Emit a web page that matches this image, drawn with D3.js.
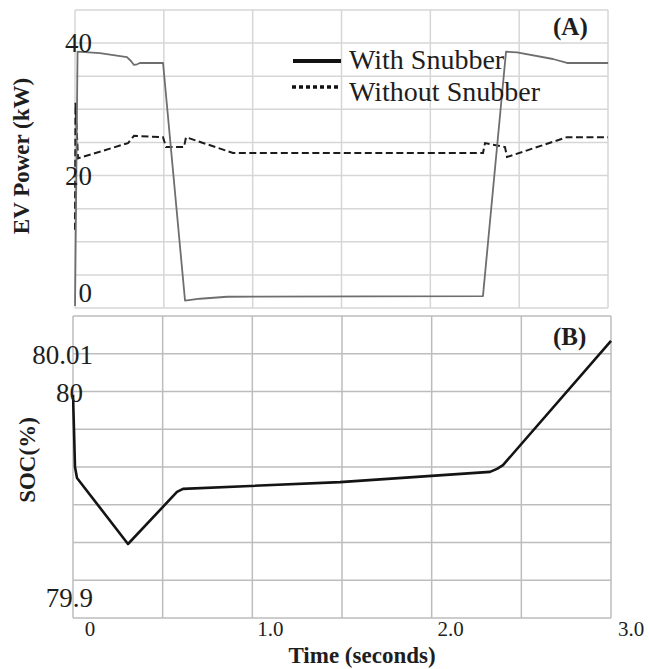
<!DOCTYPE html>
<html>
<head>
<meta charset="utf-8">
<script src="https://cdn.jsdelivr.net/npm/d3@7/dist/d3.min.js"></script>
<style>
  html, body { margin: 0; padding: 0; background: #fff; }
  svg { display: block; }
  text { font-family: "Liberation Serif", "Times New Roman", serif; fill: #1e1e1e; }
</style>
</head>
<body>
<svg id="chart" width="649" height="669"></svg>
<script>
// ---- data: EV power (kW) over time (s) ----
const powerWithTime = [-0.083, -0.069, 0.055, 0.205, 0.227, 0.244, 0.261, 0.277, 0.405, 0.527, 0.610, 0.760, 2.179, 2.307, 2.368, 2.567, 2.645, 2.873];
const powerWith     = [0.3, 38.7, 38.5, 37.9, 37.3, 36.7, 36.8, 37.0, 37.0, 1.1, 1.4, 1.7, 1.8, 38.7, 38.6, 37.6, 37.0, 37.0];

const powerWithoutTime = [-0.0832, -0.0804, -0.0665, 0.2107, 0.2440, 0.4048, 0.4214, 0.5213, 0.5324, 0.7930, 2.1793, 2.1904, 2.3013, 2.3124, 2.6451, 2.8725];
const powerWithout     = [11.8, 31.0, 22.6, 24.9, 26.0, 25.8, 24.3, 24.3, 25.8, 23.4, 23.4, 24.9, 24.3, 22.8, 25.8, 25.8];

// ---- data: battery state of charge (%) over time (s) ----
const socTime = [-0.0943, -0.0887, -0.0832, -0.0721, 0.2107, 0.4824, 0.5157, 1.3863, 2.2181, 2.2569, 2.2902, 2.8892];
const soc     = [79.9991, 79.9898, 79.9800, 79.9771, 79.9596, 79.9734, 79.9742, 79.9760, 79.9787, 79.9795, 79.9805, 80.0134];

// ---- axis labels ----
const powerTickValues = [20, 40];
const powerMinLabel = "0";
const socTickValues = [80.01, 80];
const socTickLabels = ["80.01", "80"];
const socMinLabel = "79.9";
const timeTickValues = [0, 1, 2, 3];
const timeTickLabels = ["0", "1.0", "2.0", "3.0"];
const seriesNames = ["With Snubber", "Without Snubber"];

const svg = d3.select("#chart");

// shared time scale
const x = d3.scaleLinear().domain([0, 3]).range([90, 631]);

// panel frames
const A = { left: 75, right: 608, top: 10, bottom: 308 };
const B = { left: 73, right: 611, top: 316, bottom: 618 };

const yA = d3.scaleLinear().domain([0, 45]).range([A.bottom, A.top]);
const yB = d3.scaleLinear().domain([79.94, 80.02]).range([B.bottom, B.top]);

function grid(frame, yScale, yTicks, color) {
  const g = svg.append("g");
  const cols = d3.scaleLinear().domain([0, 6]).range([frame.left, frame.right]);
  g.selectAll("line.v").data(d3.range(7)).join("line")
    .attr("x1", d => cols(d)).attr("x2", d => cols(d))
    .attr("y1", frame.top).attr("y2", frame.bottom)
    .attr("stroke", color).attr("stroke-width", 1.5);
  g.selectAll("line.h").data(yTicks).join("line")
    .attr("x1", frame.left).attr("x2", frame.right)
    .attr("y1", d => yScale(d)).attr("y2", d => yScale(d))
    .attr("stroke", color).attr("stroke-width", 1.5);
}

grid(A, yA, yA.ticks(9), "#d6d6d6");
grid(B, yB, yB.ticks(8), "#bdbdbd");

// clip regions
const defs = svg.append("defs");
defs.append("clipPath").attr("id", "clipA").append("rect")
  .attr("x", A.left - 1).attr("y", A.top).attr("width", A.right - A.left + 2).attr("height", A.bottom - A.top + 1);
defs.append("clipPath").attr("id", "clipB").append("rect")
  .attr("x", B.left - 1).attr("y", B.top).attr("width", B.right - B.left + 2).attr("height", B.bottom - B.top + 1);

// ---- panel A lines ----
const lineA = d3.line().x(d => x(d[0])).y(d => yA(d[1]));
svg.append("path")
  .datum(d3.zip(powerWithoutTime, powerWithout))
  .attr("clip-path", "url(#clipA)")
  .attr("d", lineA)
  .attr("fill", "none").attr("stroke", "#1c1c1c").attr("stroke-width", 2)
  .attr("stroke-dasharray", "7,3.5");
svg.append("path")
  .datum(d3.zip(powerWithTime, powerWith))
  .attr("clip-path", "url(#clipA)")
  .attr("d", lineA)
  .attr("fill", "none").attr("stroke", "#6e6e6e").attr("stroke-width", 1.8)
  .attr("stroke-linejoin", "round");

// ---- panel B line ----
const lineB = d3.line().x(d => x(d[0])).y(d => yB(d[1]));
svg.append("path")
  .datum(d3.zip(socTime, soc))
  .attr("clip-path", "url(#clipB)")
  .attr("d", lineB)
  .attr("fill", "none").attr("stroke", "#141414").attr("stroke-width", 2.6)
  .attr("stroke-linejoin", "round");

// ---- y tick labels ----
const tickFont = 27;
svg.append("g").selectAll("text").data(powerTickValues).join("text")
  .attr("x", 92).attr("y", d => yA(d) + 9)
  .attr("text-anchor", "end").attr("font-size", tickFont)
  .text(d => d);
svg.append("text")
  .attr("x", 92).attr("y", yA(yA.domain()[0]) - 6)
  .attr("text-anchor", "end").attr("font-size", tickFont)
  .text(powerMinLabel);

const socLabelRight = [93, 83];
svg.append("g").selectAll("text").data(socTickValues).join("text")
  .attr("x", (d, i) => socLabelRight[i]).attr("y", d => yB(d) + 10)
  .attr("text-anchor", "end").attr("font-size", tickFont)
  .text((d, i) => socTickLabels[i]);
svg.append("text")
  .attr("x", 93).attr("y", yB(yB.domain()[0]) - 11)
  .attr("text-anchor", "end").attr("font-size", tickFont)
  .text(socMinLabel);

// ---- x tick labels ----
svg.append("g").selectAll("text").data(timeTickValues).join("text")
  .attr("x", d => x(d)).attr("y", 636)
  .attr("text-anchor", "middle").attr("font-size", 21)
  .text((d, i) => timeTickLabels[i]);

// ---- axis titles ----
svg.append("text")
  .attr("transform", "translate(29,156) rotate(-90)")
  .attr("text-anchor", "middle").attr("font-size", 23).attr("font-weight", "bold")
  .text("EV Power (kW)");
svg.append("text")
  .attr("transform", "translate(35,460) rotate(-90)")
  .attr("text-anchor", "middle").attr("font-size", 23).attr("font-weight", "bold")
  .text("SOC(%)");
svg.append("text")
  .attr("x", 362).attr("y", 663)
  .attr("text-anchor", "middle").attr("font-size", 23).attr("font-weight", "bold")
  .text("Time (seconds)");

// ---- panel tags ----
svg.append("text").attr("x", 553).attr("y", 35)
  .attr("font-size", 25).attr("font-weight", "bold").text("(A)");
svg.append("text").attr("x", 553).attr("y", 345)
  .attr("font-size", 25).attr("font-weight", "bold").text("(B)");

// ---- legend ----
const legend = svg.append("g");
legend.append("line").attr("x1", 293).attr("x2", 341).attr("y1", 61).attr("y2", 61)
  .attr("stroke", "#111").attr("stroke-width", 4);
legend.append("line").attr("x1", 292).attr("x2", 341).attr("y1", 87).attr("y2", 87)
  .attr("stroke", "#111").attr("stroke-width", 3.5).attr("stroke-dasharray", "4,3");
legend.selectAll("text").data(seriesNames).join("text")
  .attr("x", 349).attr("y", (d, i) => i === 0 ? 69 : 101)
  .attr("font-size", 28)
  .text(d => d);
</script>
</body>
</html>
